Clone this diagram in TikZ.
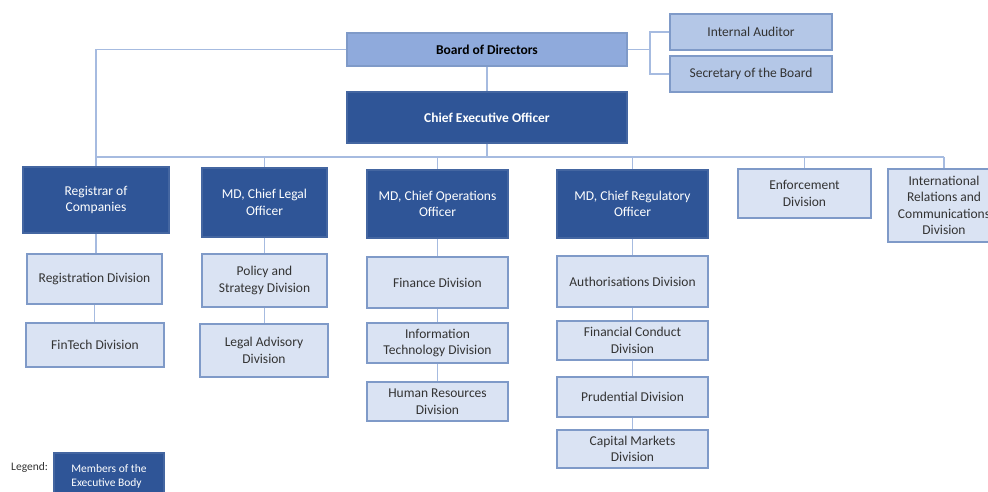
\documentclass[tikz,border=0pt]{standalone}
\usepackage{fontspec}
\setmainfont{Carlito}
\definecolor{darkb}{HTML}{2F5597}
\definecolor{boardb}{HTML}{8FAADC}
\definecolor{midb}{HTML}{B4C7E7}
\definecolor{lightb}{HTML}{DAE3F3}
\definecolor{edgeb}{HTML}{7F9AC8}
\definecolor{linkb}{HTML}{A6BBE0}
\definecolor{txt}{HTML}{333333}
\begin{document}
\begin{tikzpicture}[x=1pt,y=-1pt,
  box/.style={rectangle, inner sep=0pt, align=center, line width=1.3pt,
    font=\fontsize{13.5}{16.5}\selectfont},
  darkbox/.style={box, fill=darkb, draw=darkb!90!white, text=white},
  boardbox/.style={box, fill=boardb, draw=edgeb, text=black, font=\fontsize{13.5}{16.5}\selectfont\bfseries},
  midbox/.style={box, fill=midb, draw=edgeb, text=txt},
  lightbox/.style={box, fill=lightb, draw=edgeb, text=txt},
  link/.style={draw=linkb, line width=1.4pt},
  sz/.style 2 args={minimum width=#1pt, minimum height=#2pt}]
\useasboundingbox (0,0) rectangle (988,492);
\clip (0,0) rectangle (988,492);
% connectors first
\coordinate (bus) at (487,157);
\coordinate (junc) at (650,49.5);
% nodes
\node[boardbox, sz={280}{33}] (bod) at (487,49.5) {Board of Directors};
\node[midbox, sz={162}{36}] (ia) at (751,32) {Internal Auditor};
\node[midbox, sz={162}{36}] (sec) at (751,74) {Secretary of the Board};
\node[darkbox, sz={280}{51}, font=\fontsize{13.5}{16.5}\selectfont\bfseries] (ceo) at (487,117.5) {Chief Executive Officer};
\node[darkbox, sz={146}{66}] (reg) at (96,200) {Registrar of\\Companies};
\node[darkbox, sz={125}{69}] (legal) at (264.5,202.5) {MD, Chief Legal\\Officer};
\node[darkbox, sz={141}{68}] (ops) at (437.5,204) {MD, Chief Operations\\Officer};
\node[darkbox, sz={151}{68}] (regu) at (632.5,204) {MD, Chief Regulatory\\Officer};
\node[lightbox, sz={133}{49}] (enf) at (804.5,193.5) {Enforcement\\Division};
\node[lightbox, sz={112}{73}] (intl) at (944,205.5) {International\\Relations and\\Communications\\Division};
\node[lightbox, sz={135}{50}] (regd) at (94.5,279) {Registration Division};
\node[lightbox, sz={138}{44}] (fint) at (95,345) {FinTech Division};
\node[lightbox, sz={125}{53}] (pol) at (264.5,280.5) {Policy and\\Strategy Division};
\node[lightbox, sz={128}{53}] (lad) at (264,350.5) {Legal Advisory\\Division};
\node[lightbox, sz={141}{51}] (fnd) at (437.5,282.5) {Finance Division};
\node[lightbox, sz={141}{40}] (itd) at (437.5,343) {Information\\Technology Division};
\node[lightbox, sz={141}{39}] (hrd) at (437.5,401.5) {Human Resources\\Division};
\node[lightbox, sz={151}{51}] (aut) at (632.5,281.5) {Authorisations Division};
\node[lightbox, sz={151}{39}] (fcd) at (632.5,340.5) {Financial Conduct\\Division};
\node[lightbox, sz={151}{40}] (prd) at (632.5,397) {Prudential Division};
\node[lightbox, sz={151}{38}] (cmd) at (632.5,449) {Capital Markets\\Division};
\node[anchor=west, inner sep=0pt, text=txt, font=\fontsize{11.5}{14}\selectfont] (leg) at (11,467) {Legend:};
\node[darkbox, sz={110}{46}, align=left, font=\fontsize{11.5}{14}\selectfont] (legbox) at (109,476) {Members of the\\Executive Body};
% links
\begin{scope}[on background layer/.try]
\end{scope}
\draw[link] (bod.east) -- (junc);
\draw[link] (ia.west) -| (junc) |- (sec.west);
\draw[link] (bod.south) -- (ceo.north);
\draw[link] (bod.west) -| (reg.north);
\draw[link] (ceo.south) -- (bus);
\draw[link] (bus -| reg.north) -- (bus -| intl.north);
\foreach \n in {legal,ops,regu,enf,intl} \draw[link] (bus -| \n.north) -- (\n.north);
\draw[link] (reg.south) -- (reg.south |- regd.north);
\draw[link] (regd.south) -- (regd.south |- fint.north);
\draw[link] (legal.south) -- (pol.north);
\draw[link] (pol.south) -- (pol.south |- lad.north);
\draw[link] (ops.south) -- (fnd.north);
\draw[link] (fnd.south) -- (itd.north);
\draw[link] (itd.south) -- (hrd.north);
\draw[link] (regu.south) -- (aut.north);
\draw[link] (aut.south) -- (fcd.north);
\draw[link] (fcd.south) -- (prd.north);
\draw[link] (prd.south) -- (cmd.north);
\end{tikzpicture}
\end{document}
